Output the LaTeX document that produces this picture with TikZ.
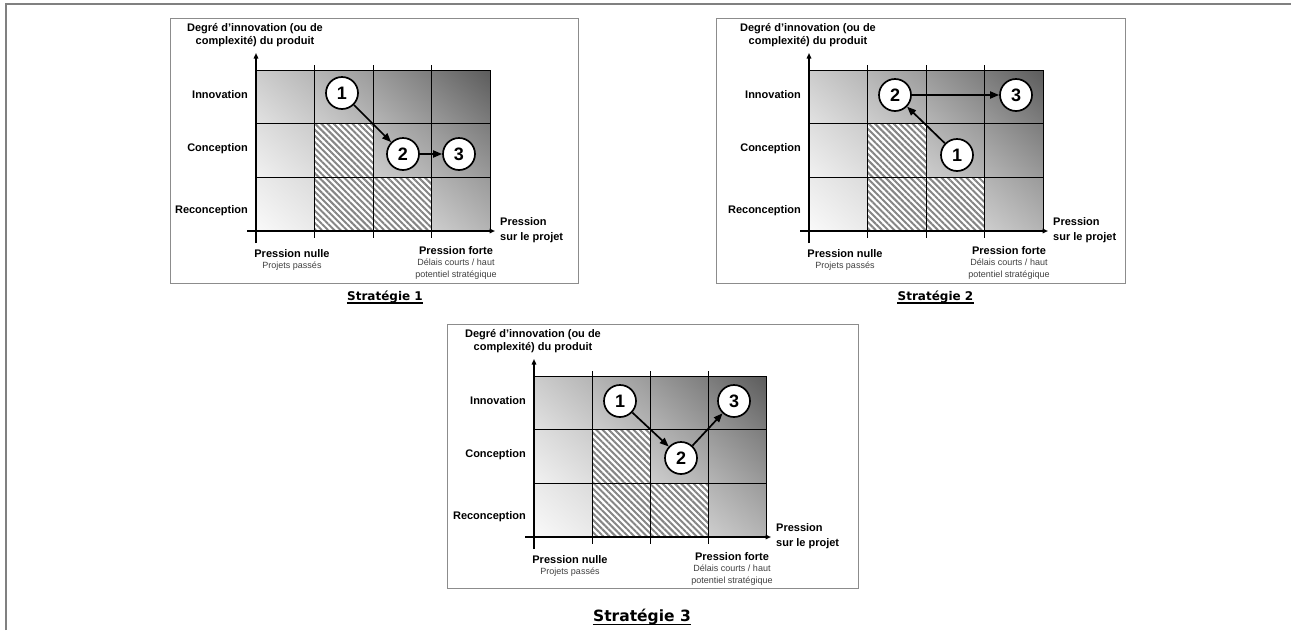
\documentclass[tikz,border=0pt]{standalone}
\usepackage{fontspec}
\setmainfont{Liberation Sans}
\newfontfamily\stratfont{DejaVu Sans}
\usetikzlibrary{arrows.meta,patterns.meta,shadings}

\newcommand\gridpanel[4]{% #1 name, #2 x0, #3 y0, #4 cell width
\begin{scope}[shift={(#2,#3)}]
\pgfmathsetmacro\pcw{#4}
\def\prh{53.667}
\foreach \i in {0,...,3}{\foreach \j in {0,1,2}{
  \pgfmathsetmacro\shT{(\i+2-\j)/5}
  \pgfmathsetmacro\cUR{14+50*(\shT^1.3)}
  \pgfmathsetmacro\cLL{2+37*(\shT^1.5)}
  \pgfmathsetmacro\cMD{(\cUR+\cLL)/2}
  \shade[upper right=black!\cUR, lower left=black!\cLL, upper left=black!\cMD, lower right=black!\cMD] (\i*\pcw,\j*\prh) rectangle ++(\pcw,\prh);
}}
\fill[white] (\pcw,\prh) rectangle (2*\pcw,3*\prh);
\fill[white] (2*\pcw,2*\prh) rectangle (3*\pcw,3*\prh);
\fill[hatch] (\pcw,\prh) rectangle (2*\pcw,3*\prh);
\fill[hatch] (2*\pcw,2*\prh) rectangle (3*\pcw,3*\prh);
\draw[gridline] (0,0) rectangle (4*\pcw,3*\prh);
\foreach \j in {1,2} \draw[gridline] (0,\j*\prh) -- (4*\pcw,\j*\prh);
\foreach \i in {1,2,3} \draw[gridline] (\i*\pcw,-5) -- (\i*\pcw,3*\prh+7);
\coordinate (#1yb) at (0,3*\prh+12);
\coordinate (#1yt) at (0,-17);
\draw[axis] (#1yb) -- (#1yt);
\coordinate (#1xl) at (-9,3*\prh);
\coordinate (#1xr) at (4*\pcw+5,3*\prh);
\draw[axis] (#1xl) -- (#1xr);
\node[lab, align=center] (#1ylab) at (-1,-35) {Degré d’innovation (ou de\\complexité) du produit};
\node[lab, anchor=east] (#1inn) at (-8,25) {Innovation};
\node[lab, anchor=east] (#1con) at (-8,79) {Conception};
\node[lab, anchor=east] (#1rec) at (-8,141) {Reconception};
\node[lab] (#1pn) at (36,184) {Pression nulle};
\node[small] (#1pp) at (36,196) {Projets passés};
\node[lab] (#1pf) at (4*\pcw-34,181) {Pression forte};
\node[small, align=center] (#1dc) at (4*\pcw-34,199) {Délais courts / haut\\potentiel stratégique};
\node[lab, align=left, anchor=west, font=\fontsize{11}{15}\selectfont\bfseries] (#1sp) at (4*\pcw+10,160.5) {Pression\\sur le projet};
\end{scope}}

\begin{document}
\begin{tikzpicture}[x=1pt,y=-1pt,
  pageline/.style={draw=black!50, line width=1.5pt},
  frame/.style={draw=black!45, line width=0.8pt},
  gridline/.style={draw=black, line width=0.7pt},
  axis/.style={line width=1.5pt, -{Triangle[length=5.5pt,width=4.5pt]}},
  num/.style={circle, draw=black, line width=1.7pt, fill=white, minimum size=32pt, inner sep=0pt, font=\fontsize{18}{18}\selectfont\bfseries},
  flow/.style={line width=1.7pt, -{Triangle[length=9pt,width=7pt]}},
  lab/.style={font=\fontsize{11}{13}\selectfont\bfseries, inner sep=0pt},
  small/.style={font=\fontsize{9}{12}\selectfont, text=black!75, inner sep=0pt},
  strat/.style={inner sep=0pt},
  hatch/.style={pattern={Lines[angle=-45,distance=4.4pt,line width=2pt]}, pattern color=black!48},
]
\useasboundingbox (0,0) rectangle (1291,630);
\fill[white] (0,0) rectangle (1291,630);
% page border
\coordinate (pbl) at (6,630);
\coordinate (ptl) at (6,4);
\coordinate (ptr) at (1291,4);
\draw[pageline] (pbl) -- (ptl) -- (ptr);

% panel frames
\draw[frame] (170,18) rectangle (578,283);
\draw[frame] (716,18) rectangle (1125,283);
\draw[frame] (447,324) rectangle (858,588);

\gridpanel{a}{256}{70}{58.5}
\gridpanel{b}{809}{70}{58.5}
\gridpanel{c}{534}{376}{58}

% Strategie 1
\node[num] (a1) at (342,93) {1};
\node[num] (a2) at (403,154) {2};
\node[num] (a3) at (459,154) {3};
\draw[flow] (a1) -- (a2);
\draw[flow] (a2) -- (a3);

% Strategie 2
\node[num] (b2) at (895,95) {2};
\node[num] (b3) at (1016,95) {3};
\node[num] (b1) at (957,155) {1};
\draw[flow] (b1) -- (b2);
\draw[flow] (b2) -- (b3);

% Strategie 3
\node[num] (c1) at (620,401) {1};
\node[num] (c2) at (681,458) {2};
\node[num] (c3) at (734,401) {3};
\draw[flow] (c1) -- (c2);
\draw[flow] (c2) -- (c3);

% titles
\node[strat, font=\stratfont\fontsize{12}{12}\selectfont\bfseries] (s1) at (385,297) {Stratégie 1};
\node[strat, font=\stratfont\fontsize{12}{12}\selectfont\bfseries] (s2) at (935.5,297) {Stratégie 2};
\node[strat, font=\stratfont\fontsize{15.5}{15.5}\selectfont\bfseries] (s3) at (642,617) {Stratégie 3};
\draw[line width=1.1pt] ([yshift=-2.5pt]s1.base west) -- ([yshift=-2.5pt]s1.base east);
\draw[line width=1.1pt] ([yshift=-2.5pt]s2.base west) -- ([yshift=-2.5pt]s2.base east);
\draw[line width=1.3pt] ([yshift=-3pt]s3.base west) -- ([yshift=-3pt]s3.base east);
\end{tikzpicture}
\end{document}
